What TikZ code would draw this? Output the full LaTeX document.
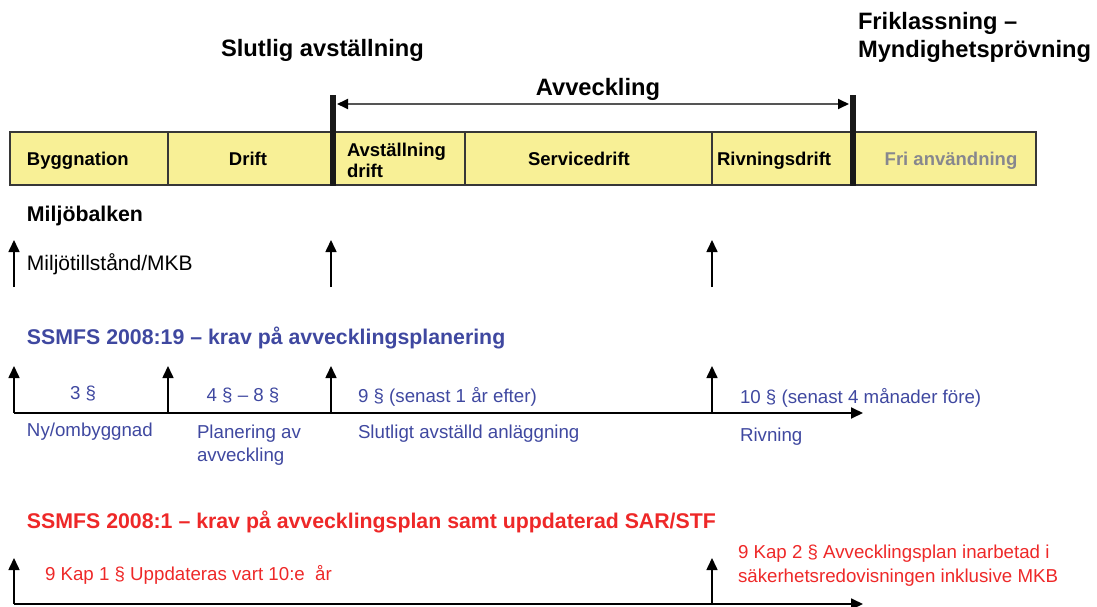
\documentclass[tikz,border=0pt]{standalone}
\usepackage{fontspec}
\setmainfont{Liberation Sans}
\usetikzlibrary{arrows.meta}
\definecolor{baryellow}{RGB}{248,240,150}
\definecolor{lawblue}{RGB}{63,72,160}
\definecolor{lawred}{RGB}{238,40,40}
\definecolor{framegray}{RGB}{55,55,55}
\definecolor{spangray}{RGB}{85,85,85}
\definecolor{fadedtext}{RGB}{135,135,142}
\begin{document}
\begin{tikzpicture}[x=1pt,y=-1pt,
  every node/.style={inner sep=0pt,outer sep=0pt},
  bigtitle/.style={font=\fontsize{23.7}{28}\selectfont\bfseries,anchor=base west},
  section/.style={font=\fontsize{21.3}{25}\selectfont\bfseries,anchor=base west},
  phase/.style={font=\fontsize{18.5}{21}\selectfont\bfseries,anchor=base},
  phaseleft/.style={phase,anchor=base west},
  note/.style={font=\fontsize{18.7}{23}\selectfont,anchor=base west},
  notec/.style={note,anchor=base},
  riser/.style={line width=1.6pt,-{Triangle[length=12pt,width=11pt]}},
  axisline/.style={line width=1.8pt,-{Triangle[length=12pt,width=11pt]}},
  spanline/.style={draw=spangray,line width=1.8pt,
    {Triangle[length=11pt,width=10pt,color=black]}-{Triangle[length=11pt,width=10pt,color=black]}},
  milestone/.style={fill=black!90,draw=none},
]
\useasboundingbox (0,0) rectangle (1097,607);

% ---------- headings above the phase bar ----------
\node[bigtitle] (slut) at (221,57) {Slutlig avställning};
\node[bigtitle] (fri1) at (858,30) {Friklassning –};
\node[bigtitle] (fri2) at (858,58) {Myndighetsprövning};
\node[bigtitle,anchor=base] (avv) at (598,96) {Avveckling};

% ---------- phase bar ----------
\fill[baryellow] (10,132) rectangle (1036,185);
\draw[framegray,line width=1.2pt] (10,132) rectangle (1036,185);
\foreach \xd in {168,465,712}
  \draw[framegray,line width=1.2pt] (\xd,132) -- (\xd,185);

\node[phaseleft] (bygg) at (27,165) {Byggnation};
\node[phase] (drift) at (248,165) {Drift};
\node[phaseleft] (avst1) at (347,156) {Avställning};
\node[phaseleft] (avst2) at (347,177) {drift};
\node[phase] (serv) at (579,165) {Servicedrift};
\node[phaseleft] (riv) at (717,165) {Rivningsdrift};
\node[phase,text=fadedtext] (friuse) at (951,165) {Fri användning};

% milestones: final shutdown and clearance
\fill[milestone] (330,95) rectangle (336,186);
\fill[milestone] (850,95) rectangle (856,186);
\coordinate (spanL) at (337,104);
\coordinate (spanR) at (849,104);
\draw[spanline] (spanL) -- (spanR);

% ---------- Miljöbalken ----------
\node[section] (mb) at (27,221.5) {Miljöbalken};
\node[note,font=\fontsize{21}{24}\selectfont] (mbk) at (27,270) {Miljötillstånd/MKB};
\foreach \xa/\nm in {14/a,331/b,712/c}{
  \coordinate (mb\nm0) at (\xa,287);
  \coordinate (mb\nm1) at (\xa,240);
  \draw[riser] (mb\nm0) -- (mb\nm1);
}

% ---------- SSMFS 2008:19 ----------
\node[section,text=lawblue] (s19) at (27,344.5) {SSMFS 2008:19 – krav på avvecklingsplanering};
\coordinate (t19s) at (14,413);
\coordinate (t19e) at (863,413);
\draw[axisline] (t19s) -- (t19e);
\foreach \xa/\nm in {14/a,168/b,331/c,712/d}{
  \coordinate (u\nm0) at (\xa,413);
  \coordinate (u\nm1) at (\xa,366);
  \draw[riser] (u\nm0) -- (u\nm1);
}
\begin{scope}[every node/.append style={text=lawblue}]
  \node[notec] (p3) at (83,399) {3 §};
  \node[notec] (p48) at (243,401) {4 § – 8 §};
  \node[note] (p9) at (358,402) {9 § (senast 1 år efter)};
  \node[note] (p10) at (740,403) {10 § (senast 4 månader före)};
  \node[note] (ny) at (27,436) {Ny/ombyggnad};
  \node[note] (plan1) at (197,438) {Planering av};
  \node[note] (plan2) at (197,461) {avveckling};
  \node[note] (slav) at (358,438) {Slutligt avställd anläggning};
  \node[note] (rivn) at (740,441) {Rivning};
\end{scope}

% ---------- SSMFS 2008:1 ----------
\node[section,text=lawred] (s1) at (27,528.5) {SSMFS 2008:1 – krav på avvecklingsplan samt uppdaterad SAR/STF};
\coordinate (t1s) at (14,604);
\coordinate (t1e) at (863,604);
\draw[axisline] (t1s) -- (t1e);
\foreach \xa/\nm in {14/a,712/b}{
  \coordinate (r\nm0) at (\xa,604);
  \coordinate (r\nm1) at (\xa,558);
  \draw[riser] (r\nm0) -- (r\nm1);
}
\begin{scope}[every node/.append style={text=lawred}]
  \node[note] (k1) at (45,580) {9 Kap 1 § Uppdateras vart 10:e \ år};
  \node[note] (k2a) at (738,558.5) {9 Kap 2 § Avvecklingsplan inarbetad i};
  \node[note] (k2b) at (738,582) {säkerhetsredovisningen inklusive MKB};
\end{scope}
\end{tikzpicture}
\end{document}
